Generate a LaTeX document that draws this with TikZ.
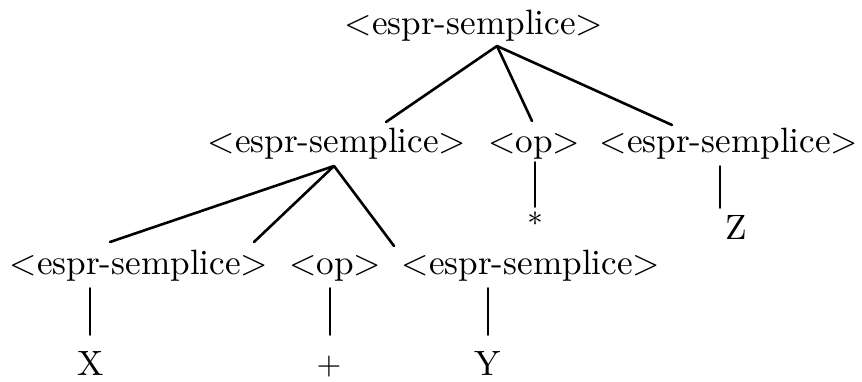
\documentclass[tikz,border=0pt]{standalone}

\begin{document}
\begin{tikzpicture}[x=1pt,y=-1pt,line cap=round]
        \useasboundingbox[fill=white] (0,0) rectangle (862,382);

        \begin{scope}[every node/.style={anchor=base, inner sep=0pt, scale=3.35, font=\fontsize{10.5}{12}\selectfont}]
          \node (1)  at (474,35)  {<espr-semplice>};
          \node (2)  at (337,153) {<espr-semplice>};
          \node (3)  at (534,153) {<op>};
          \node (4)  at (729,153) {<espr-semplice>};
          \node (5)  at (139,274) {<espr-semplice>};
          \node (6)  at (335,274) {<op>};
          \node (7)  at (531,274) {<espr-semplice>};
          \node (8)  at (91,375)  {X};
          \node (10) at (488,375) {Y};
          \node (12) at (736,240) {Z};
          \node[font=\fontsize{9.5}{11}\selectfont] (9)  at (329,374) {+};
          \node[font=\fontsize{9}{11}\selectfont] (11) at (535,234) {*};
        \end{scope}

        % where the branches start and end
        \coordinate (1d) at (497,46);
        \coordinate (2u) at (386,122);
        \coordinate (3u) at (532,121);
        \coordinate (4u) at (672,125);
        \coordinate (2d) at (334,166);
        \coordinate (5u) at (110,242);
        \coordinate (6u) at (254,242);
        \coordinate (7u) at (394,246);
        \coordinate (3d) at (535,162);
        \coordinate (11u) at (535,207);
        \coordinate (4d) at (720,166);
        \coordinate (12u) at (720,208);
        \coordinate (5d) at (90,288);
        \coordinate (8u) at (90,335);
        \coordinate (6d) at (330,288);
        \coordinate (9u) at (330,335);
        \coordinate (7d) at (488,288);
        \coordinate (10u) at (488,335);

        \begin{scope}[every edge/.style={draw, line width=2.6pt}]
          \path (1d) edge (2u);
          \path (1d) edge (3u);
          \path (1d) edge (4u);
          \path (2d) edge (5u);
          \path (2d) edge (6u);
          \path (2d) edge (7u);
        \end{scope}

        \begin{scope}[every edge/.style={draw, line width=1.8pt}]
          \path (3d) edge (11u);
          \path (4d) edge (12u);
          \path (5d) edge (8u);
          \path (6d) edge (9u);
          \path (7d) edge (10u);
        \end{scope}

      \end{tikzpicture}
\end{document}
